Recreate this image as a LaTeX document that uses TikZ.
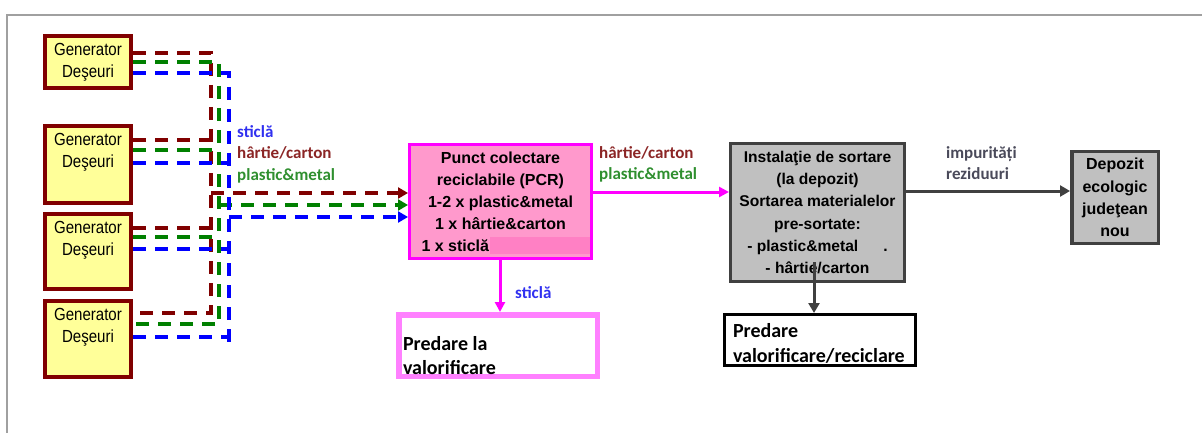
\documentclass[tikz,border=0pt]{standalone}
\usepackage{fontspec}
\setmainfont{Liberation Sans}
\newfontfamily\genfont[FakeStretch=0.86]{Liberation Sans}
\newfontfamily\calfont{Carlito}
\usetikzlibrary{arrows.meta}
\definecolor{gred}{HTML}{800000}
\definecolor{ggreen}{HTML}{008000}
\definecolor{gblue}{HTML}{0000FF}
\definecolor{genfill}{HTML}{FFFF99}
\definecolor{pcrfill}{HTML}{FF99CC}
\definecolor{pcrhl}{HTML}{FF80C4}
\definecolor{mag}{HTML}{FF00FF}
\definecolor{lmag}{HTML}{FF80FF}
\definecolor{sortfill}{HTML}{C0C0C0}
\definecolor{dgray}{HTML}{404040}
\definecolor{framegray}{HTML}{A0A0A0}
\definecolor{lblblue}{HTML}{3030F0}
\definecolor{lblred}{HTML}{8B2525}
\definecolor{lblgreen}{HTML}{2F8F2F}
\definecolor{lblgray}{HTML}{4A4A5A}
\newcommand{\gtxt}[1]{\parbox[c][#1][t]{84pt}{\centering\vspace*{7pt}Generator\\Deşeuri}}
\begin{document}
\begin{tikzpicture}[x=1pt,y=-1pt,
  gen/.style={draw=gred,line width=4pt,fill=genfill,minimum width=86pt,inner sep=0pt,
    font=\genfont\fontsize{17.5}{22}\selectfont},
  boxtxt/.style={align=center,inner sep=0pt,font=\bfseries\fontsize{16}{22}\selectfont},
  lbl/.style={anchor=base west,inner sep=0pt,font=\calfont\bfseries\fontsize{17}{20}\selectfont},
  rdash/.style={draw=gred,line width=4pt,dash pattern=on 13pt off 9pt},
  gdash/.style={draw=ggreen,line width=4pt,dash pattern=on 13pt off 9pt},
  bdash/.style={draw=gblue,line width=4pt,dash pattern=on 13pt off 9pt},
  dtip/.style={-{Triangle[length=10pt,width=11pt]}},
  magarrow/.style={draw=mag,line width=3pt,-{Triangle[length=10pt,width=10pt]}},
  grayarrow/.style={draw=dgray,line width=3pt,-{Triangle[length=10pt,width=11pt]}}]
\useasboundingbox (0,0) rectangle (1202,433);
\draw[framegray,line width=1.2pt] (1202,15) -- (7,15) -- (7,433);

% generators
\node[gen,minimum height=52pt] (g1) at (88,62) {\gtxt{52pt}};
\node[gen,minimum height=76pt] (g2) at (88,164.5) {\gtxt{76pt}};
\node[gen,minimum height=75pt] (g3) at (88,251.5) {\gtxt{75pt}};
\node[gen,minimum height=76pt] (g4) at (88,339) {\gtxt{76pt}};

% main boxes
\node[boxtxt,draw=mag,line width=3pt,fill=pcrfill,minimum width=182pt,minimum height=114pt] (pcr) at (500.5,201.5)
  {Punct colectare\\reciclabile (PCR)\\1-2 x plastic\&metal\\1 x hârtie\&carton\\\makebox[158pt][l]{1 x sticlă}};
\fill[pcrhl] (490,237) rectangle (590,254);

\node[boxtxt,font=\bfseries\fontsize{15.6}{22.2}\selectfont,draw=dgray,line width=3pt,fill=sortfill,
  minimum width=174pt,minimum height=138pt] (sort) at (817.5,212.5)
  {Instalaţie de sortare\\(la depozit)\\Sortarea materialelor\\pre-sortate:\\- plastic\&metal\hspace{25pt}.\\- hârtie/carton};

\node[boxtxt,draw=dgray,line width=3.5pt,fill=sortfill,minimum width=86.5pt,minimum height=91.5pt,
  font=\bfseries\fontsize{16}{22.3}\selectfont] (dep) at (1115,197.5)
  {Depozit\\ecologic\\judeţean\\nou};

\node[draw=lmag,line width=5.5pt,fill=white,minimum width=198.5pt,minimum height=61.5pt,inner sep=0pt,
  font=\calfont\bfseries\fontsize{20}{24.5}\selectfont] (val1) at (498,345.5)
  {\parbox[c][59pt][b]{190pt}{\raggedright Predare la\\valorificare}};

\node[draw=black,line width=3pt,fill=white,minimum width=191pt,minimum height=51pt,inner sep=0pt,
  font=\calfont\bfseries\fontsize{20}{25}\selectfont] (val2) at (820,340)
  {\parbox[c][46pt][b]{174pt}{\raggedright Predare\\valorificare/reciclare}};

% bus coordinates
\coordinate (rtop) at (211,53);  \coordinate (rbot) at (211,313); \coordinate (rjoin) at (211,193);
\coordinate (gtop) at (219,62);  \coordinate (gbot) at (219,324); \coordinate (gjoin) at (219,205);
\coordinate (btop) at (229,73);  \coordinate (bbot) at (229,343); \coordinate (bjoin) at (229,217);

% red
\draw[rdash] (g1.east |- rtop) -- (rtop) -- (rbot) -- (g4.east |- rbot);
\draw[rdash] (g2.east |- 0,140) -- (rtop |- 0,140);
\draw[rdash] (g3.east |- 0,228) -- (rtop |- 0,228);
\draw[rdash,dtip] (rjoin) -- (pcr.west |- rjoin);
% green
\draw[gdash] (g1.east |- gtop) -- (gtop) -- (gbot) -- (g4.east |- gbot);
\draw[gdash] (g2.east |- 0,150) -- (gtop |- 0,150);
\draw[gdash] (g3.east |- 0,237) -- (gtop |- 0,237);
\draw[gdash,dtip] (gjoin) -- (pcr.west |- gjoin);
% blue
\draw[bdash] (g1.east |- btop) -- (btop) -- (bbot);
\draw[bdash] (g2.east |- 0,163) -- (btop |- 0,163);
\draw[bdash] (g3.east |- 0,249) -- (btop |- 0,249);
\draw[bdash] (g4.east |- 0,337) -- (btop |- 0,337);
\draw[bdash,dtip] (bjoin) -- (pcr.west |- bjoin);

% left labels
\node[lbl,text=lblblue] (l1) at (237,137.3) {sticlă};
\node[lbl,text=lblred] (l2) at (237,158.3) {hârtie/carton};
\node[lbl,text=lblgreen] (l3) at (237,180) {plastic\&metal};

% PCR -> sort
\draw[magarrow] (pcr.east |- 0,192) -- (sort.west |- 0,192);
\node[lbl,text=lblred] (l4) at (599,159) {hârtie/carton};
\node[lbl,text=lblgreen] (l5) at (599,179.3) {plastic\&metal};

% PCR -> val1
\draw[magarrow] (pcr.south -| 500,0) -- (val1.north -| 500,0);
\node[lbl,text=lblblue] (l6) at (515,298) {sticlă};

% sort -> dep
\draw[grayarrow] (sort.east |- 0,191) -- (dep.west |- 0,191);
\node[lbl,text=lblgray] (l7) at (946,159) {impurități};
\node[lbl,text=lblgray] (l8) at (946,179) {reziduuri};

% sort -> val2
\coordinate (sdstart) at (814,262);
\draw[grayarrow] (sdstart) -- (sdstart |- val2.north);
\end{tikzpicture}
\end{document}
